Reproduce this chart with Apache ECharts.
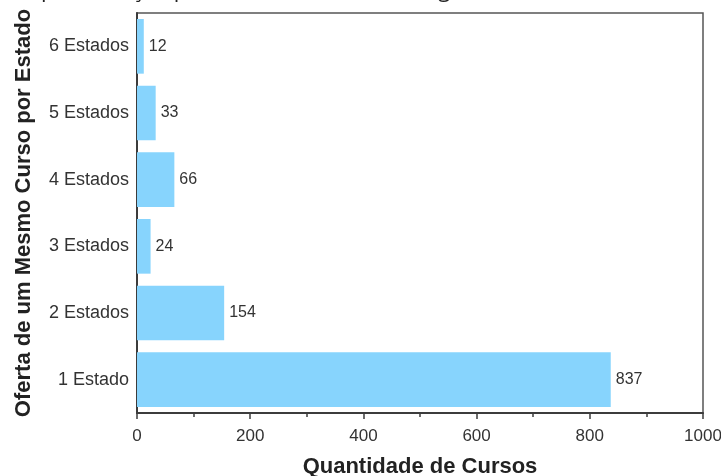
<!DOCTYPE html>
<html>
<head>
<meta charset="utf-8">
<script src="https://cdn.jsdelivr.net/npm/echarts@6/dist/echarts.min.js"></script>
<style>
  html, body { margin: 0; padding: 0; background: #fff; }
  #chart { width: 721px; height: 476px; }
</style>
</head>
<body>
<div id="chart"></div>
<script>
// Number of states in which the same course is offered, and the course counts
const categories = ['1 Estado', '2 Estados', '3 Estados', '4 Estados', '5 Estados', '6 Estados'];
const courseCounts = [837, 154, 24, 66, 33, 12];
const xTicks = { min: 0, max: 1000, interval: 200 };
const captionText = 'Representação por número de Estados e grau de oferta do mesmo curso';

const chart = echarts.init(document.getElementById('chart'), null, { renderer: 'canvas' });

const axisColor = '#3c3c3c';
const textColor = '#333';
const fontFamily = 'Liberation Sans, Arial, sans-serif';

chart.setOption({
  animation: false,
  backgroundColor: '#fff',
  graphic: [{
    // caption line running above the chart, clipped by the top edge
    type: 'text',
    x: 15,
    y: -20.5,
    z: 100,
    style: {
      text: captionText,
      font: '22px "Open Sans", sans-serif',
      fill: '#222'
    }
  }],
  grid: {
    left: 137,
    right: 18,
    top: 13,
    bottom: 63,
    outerBoundsMode: 'none',
    containLabel: false,
    show: true,
    borderColor: '#555',
    borderWidth: 1.5
  },
  xAxis: {
    type: 'value',
    min: xTicks.min,
    max: xTicks.max,
    interval: xTicks.interval,
    name: 'Quantidade de Cursos',
    nameLocation: 'middle',
    nameGap: 43,
    nameTextStyle: { fontFamily, fontSize: 22, fontWeight: 'bold', color: '#222' },
    axisLine: { show: true, lineStyle: { color: axisColor, width: 2 } },
    axisTick: { show: true, inside: false, length: 6, lineStyle: { color: axisColor, width: 1.5 } },
    minorTick: { show: true, splitNumber: 2, length: 4, lineStyle: { color: axisColor, width: 1.5 } },
    axisLabel: { fontFamily, fontSize: 17, color: textColor, margin: 15, formatter: v => String(v) },
    splitLine: { show: false }
  },
  yAxis: {
    type: 'category',
    data: categories,
    name: 'Oferta de um Mesmo Curso por Estado',
    nameLocation: 'middle',
    nameGap: 102,
    nameTextStyle: { fontFamily, fontSize: 22, fontWeight: 'bold', color: '#222' },
    axisLine: { show: true, lineStyle: { color: axisColor, width: 2 } },
    axisTick: { show: false },
    axisLabel: { fontFamily, fontSize: 18, color: textColor, margin: 8 }
  },
  series: [{
    type: 'bar',
    data: courseCounts,
    barCategoryGap: '18%',
    itemStyle: { color: '#87d4fd' },
    label: {
      show: true,
      position: 'right',
      distance: 5,
      fontFamily,
      fontSize: 16,
      color: textColor
    }
  }]
});
</script>
</body>
</html>
